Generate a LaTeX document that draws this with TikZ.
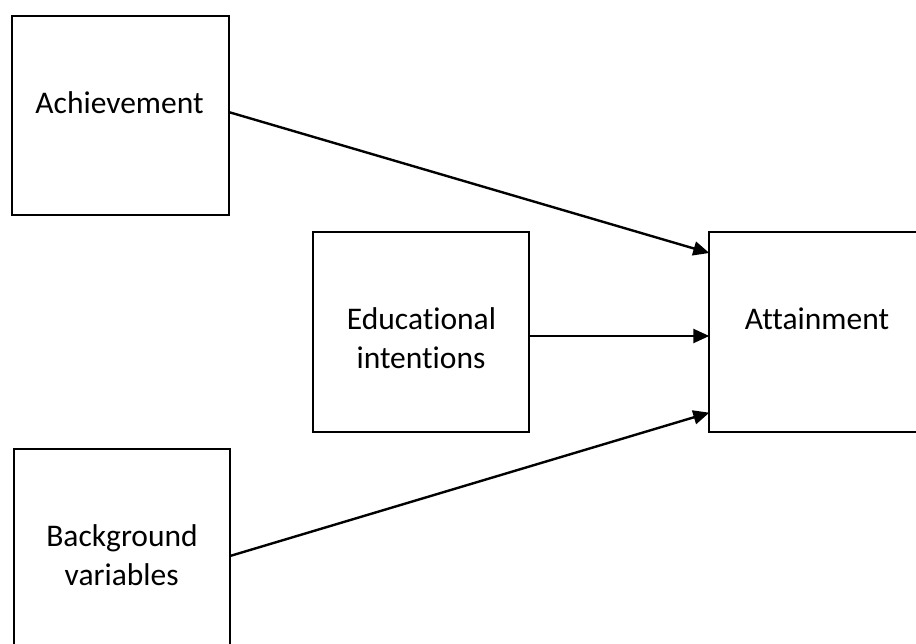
\documentclass[tikz,border=0pt]{standalone}
\usepackage{fontspec}
\setmainfont[Ligatures={NoCommon}]{Carlito}
\usetikzlibrary{arrows.meta}
\begin{document}
\begin{tikzpicture}[x=1pt,y=-1pt,
  box/.style={draw=black,line width=2.2pt,fill=none,inner sep=0pt,outer sep=0pt},
  lbl/.style={anchor=base,inner sep=0pt,font=\fontsize{31.5}{38.4}\selectfont},
  conn/.style={line width=2.4pt,-{Triangle[length=16pt,width=14pt]}}]
\useasboundingbox (0,0) rectangle (916,644);
\clip (0,0) rectangle (916,644);
\node[box,minimum width=216.4pt,minimum height=199.3pt] (ach) at (120.5,115.35) {};
\node[box,minimum width=216pt,minimum height=199.4pt] (edu) at (421.3,332) {};
\node[box,minimum width=261pt,minimum height=199.4pt] (att) at (839.8,332) {};
\node[box,minimum width=215.7pt,minimum height=231pt] (bg) at (122.15,564.5) {};
\node[lbl] (achT) at (119.5,113.3) {Achievement};
\node[lbl] (eduT1) at (421.5,330) {Educational};
\node[lbl] (eduT2) at (421,368.3) {intentions};
\node[lbl] (attT) at (817,330) {Attainment};
\node[lbl] (bgT1) at (122,546.7) {Background};
\node[lbl] (bgT2) at (121.7,585) {variables};
\draw[conn] ([yshift=3.3pt]ach.east) -- ([yshift=79pt]att.west);
\draw[conn] ([yshift=-4pt]edu.east) -- ([yshift=-4pt]att.west);
\draw[conn] ([yshift=8.5pt]bg.east) -- ([yshift=-80.7pt]att.west);
\end{tikzpicture}
\end{document}
